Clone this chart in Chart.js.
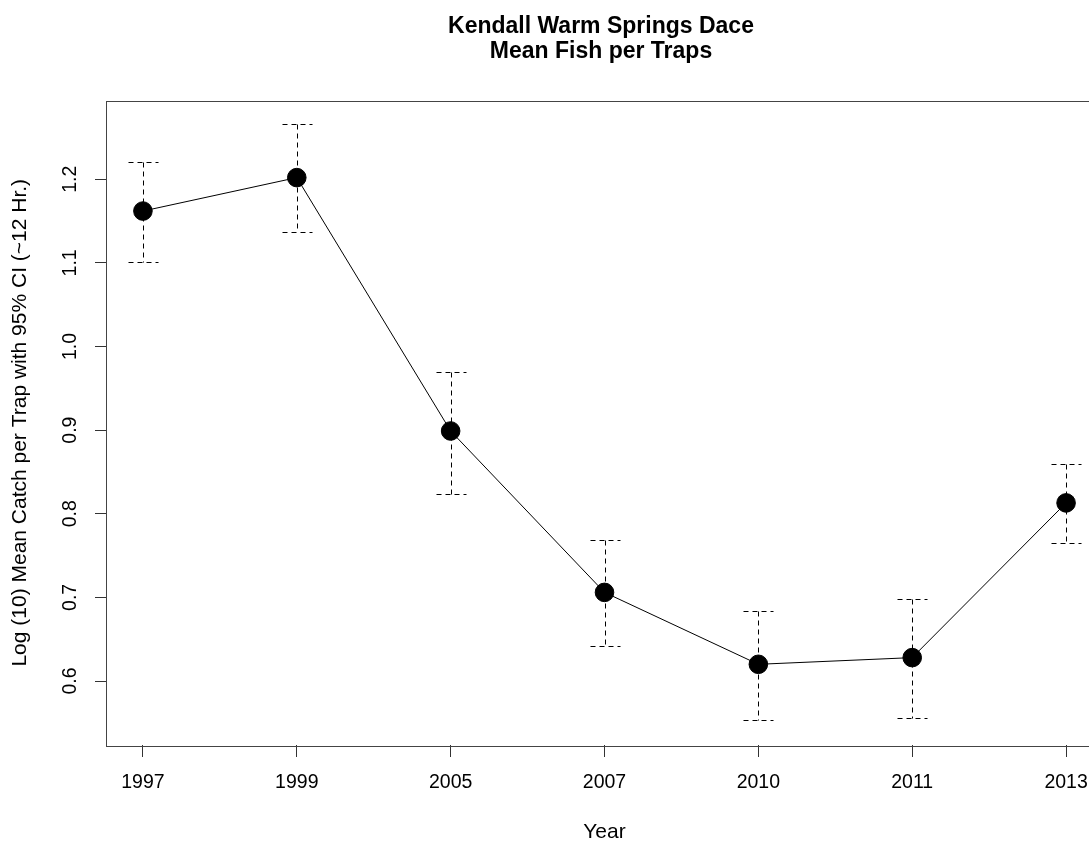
<!DOCTYPE html>
<html>
<head>
<meta charset="utf-8">
<script src="https://cdn.jsdelivr.net/npm/chart.js@4/dist/chart.umd.min.js"></script>
<style>
  html, body { margin: 0; padding: 0; background: #ffffff; overflow: hidden; }
  #wrap { width: 1202px; height: 841px; }
</style>
</head>
<body>
<div id="wrap"><canvas id="c" width="1202" height="841"></canvas></div>
<script>
// ---- data ----
const years = ['1997', '1999', '2005', '2007', '2010', '2011', '2013'];
const meanCatch = [1.162, 1.202, 0.899, 0.706, 0.620, 0.628, 0.813];
const ciLow = [1.101, 1.137, 0.824, 0.642, 0.553, 0.556, 0.765];
const ciHigh = [1.221, 1.266, 0.970, 0.769, 0.684, 0.698, 0.860];
const yTickValues = [0.6, 0.7, 0.8, 0.9, 1.0, 1.1, 1.2];
const titleLines = ['Kendall Warm Springs Dace', 'Mean Fish per Traps'];
const xTitle = 'Year';
const yTitle = 'Log (10) Mean Catch per Trap with 95% CI (~12 Hr.)';

const FONT = "'Liberation Sans', Arial, Helvetica, sans-serif";

const points = years.map((y, i) => ({ x: i + 1, y: meanCatch[i] }));

const boxPlugin = {
  id: 'boxPlugin',
  beforeDatasetsDraw(chart) {
    const { ctx, scales: { x, y } } = chart;
    ctx.save();
    ctx.strokeStyle = '#000';
    ctx.lineWidth = 1;
    ctx.setLineDash([5, 4]);
    const cap = 15;
    years.forEach((yr, i) => {
      const px = Math.round(x.getPixelForValue(i + 1)) + 0.5;
      const yl = Math.round(y.getPixelForValue(ciLow[i])) + 0.5;
      const yh = Math.round(y.getPixelForValue(ciHigh[i])) + 0.5;
      ctx.beginPath();
      ctx.moveTo(px, yh); ctx.lineTo(px, yl);
      ctx.moveTo(px - cap, yh); ctx.lineTo(px + cap, yh);
      ctx.moveTo(px - cap, yl); ctx.lineTo(px + cap, yl);
      ctx.stroke();
    });
    ctx.restore();
  },
  afterDraw(chart) {
    const { ctx, chartArea: a } = chart;
    ctx.save();
    ctx.strokeStyle = '#444';
    ctx.lineWidth = 1;
    ctx.strokeRect(Math.round(a.left) + 0.5, Math.round(a.top) + 0.5,
                   Math.round(a.right - a.left), Math.round(a.bottom - a.top));
    ctx.restore();
  }
};

new Chart(document.getElementById('c'), {
  type: 'line',
  data: {
    datasets: [{
      data: points,
      borderColor: '#000',
      borderWidth: 1,
      backgroundColor: '#000',
      pointBackgroundColor: '#000',
      pointBorderColor: '#000',
      pointRadius: 9.3,
      pointHoverRadius: 9.3,
      tension: 0,
      fill: false
    }]
  },
  options: {
    responsive: false,
    devicePixelRatio: 1,
    animation: false,
    layout: { padding: 0 },
    plugins: {
      legend: { display: false },
      tooltip: { enabled: false },
      title: {
        display: true,
        text: titleLines,
        color: '#000',
        font: { family: FONT, size: 23, weight: 'bold', lineHeight: 1.05 },
        padding: { top: 15, bottom: 37.2 }
      }
    },
    scales: {
      x: {
        type: 'linear',
        min: 0.76,
        max: 7.24,
        afterBuildTicks(scale) {
          scale.ticks = years.map((_, i) => ({ value: i + 1 }));
        },
        afterFit(scale) { scale.height = 96; },
        ticks: {
          autoSkip: false,
          maxRotation: 0,
          minRotation: 0,
          padding: 14,
          color: '#000',
          font: { family: FONT, size: 19.5, lineHeight: 1.2 },
          callback: (v) => years[Math.round(v) - 1]
        },
        grid: { drawOnChartArea: false, drawTicks: true, tickLength: 12, color: '#333', tickColor: '#333' },
        border: { display: false },
        title: {
          display: true,
          text: xTitle,
          color: '#000',
          font: { family: FONT, size: 21, lineHeight: 0.8 },
          padding: { top: 0, bottom: 0.6 }
        }
      },
      y: {
        type: 'linear',
        position: 'left',
        min: 0.5235,
        max: 1.2942,
        afterBuildTicks(scale) {
          scale.ticks = yTickValues.map(v => ({ value: v }));
        },
        afterFit(scale) { scale.width = 106; },
        ticks: {
          autoSkip: false,
          minRotation: 90,
          maxRotation: 90,
          crossAlign: 'center',
          padding: 11,
          color: '#000',
          font: { family: FONT, size: 19.5, lineHeight: 1.2 },
          callback: (v) => Number(v).toFixed(1)
        },
        grid: { drawOnChartArea: false, drawTicks: true, tickLength: 11, color: '#333', tickColor: '#333' },
        border: { display: false },
        title: {
          display: true,
          text: yTitle,
          color: '#000',
          font: { family: FONT, size: 21, lineHeight: 1 },
          padding: { top: 9.5, bottom: 0 }
        }
      },
      yRightMargin: {
        type: 'linear',
        position: 'right',
        display: true,
        min: 0.5235,
        max: 1.2942,
        afterFit(scale) { scale.width = 99; },
        ticks: { display: false },
        grid: { display: false },
        border: { display: false }
      }
    }
  },
  plugins: [boxPlugin]
});
</script>
</body>
</html>
